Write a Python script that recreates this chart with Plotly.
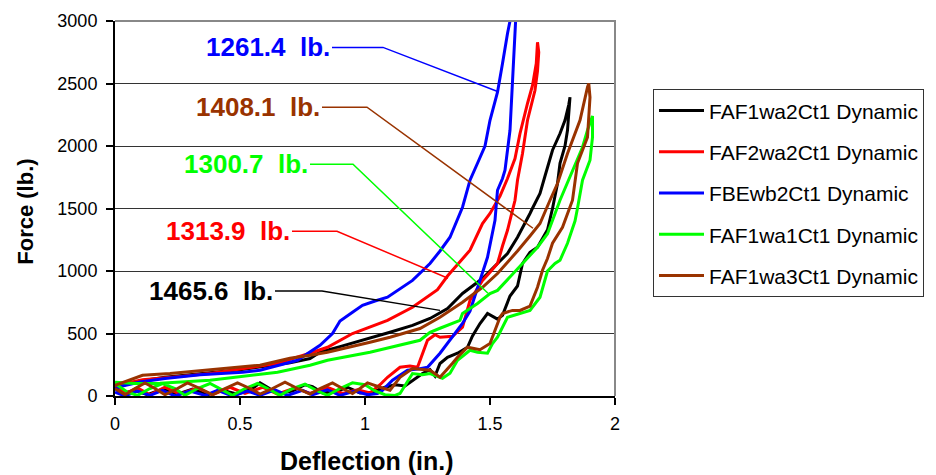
import plotly.graph_objects as go

# ---------------- data ----------------
SERIES_NAMES = ["FAF1wa2Ct1 Dynamic", "FAF2wa2Ct1 Dynamic", "FBEwb2Ct1 Dynamic",
                "FAF1wa1Ct1 Dynamic", "FAF1wa3Ct1 Dynamic"]
SERIES_COLORS = ["#000000", "#FF0000", "#0000FF", "#00FF00", "#993300"]

black_x = [0.00, 0.03, 0.08, 0.13, 0.19, 0.25, 0.31, 0.37, 0.43, 0.49, 0.55, 0.58, 0.61, 0.65, 0.71,
           0.76, 0.79, 0.83, 0.89, 0.93, 0.98, 1.03, 1.08, 1.12, 1.16, 1.19, 1.23, 1.26, 1.28, 1.30,
           1.33, 1.37, 1.41, 1.43, 1.46, 1.49, 1.51, 1.53, 1.55, 1.58, 1.61, 1.63, 1.66, 1.69, 1.71,
           1.73, 1.75, 1.77, 1.78, 1.80, 1.81, 1.815, 1.82,
           1.815, 1.80, 1.78, 1.75, 1.72, 1.70, 1.67, 1.66, 1.61, 1.57, 1.53, 1.47, 1.39, 1.33, 1.26,
           1.19, 1.10, 1.02, 0.90, 0.82, 0.78, 0.70, 0.60, 0.50, 0.40, 0.30, 0.20, 0.10, 0.04, 0.00]
black_y = [60, 20, 45, 10, 55, 15, 55, 10, 45, 15, 60, 105, 70, 20, 40,
           90, 75, 25, 40, 70, 25, 30, 70, 90, 80, 126, 180, 210, 160, 260,
           310, 342, 390, 480, 580, 660, 640, 615, 645, 800, 880, 1060, 1150, 1190, 1260,
           1330, 1500, 1700, 1862, 2000, 2126, 2250, 2390,
           2330, 2206, 2100, 1966, 1760, 1620, 1502, 1460, 1270, 1140, 1060, 940, 820, 700, 620,
           565, 510, 462, 395, 350, 300, 265, 235, 210, 190, 170, 150, 120, 90, 70]

red_x = [0.00, 0.04, 0.09, 0.14, 0.20, 0.26, 0.33, 0.39, 0.46, 0.52, 0.59, 0.65, 0.72, 0.78, 0.85,
         0.91, 0.97, 1.02, 1.06, 1.09, 1.14, 1.18, 1.21, 1.25, 1.28, 1.30, 1.35, 1.39, 1.42, 1.45,
         1.47, 1.50, 1.53, 1.55, 1.57, 1.60, 1.61, 1.63, 1.65, 1.68, 1.69, 1.695, 1.69,
         1.685, 1.67, 1.65, 1.62, 1.60, 1.57, 1.54, 1.50, 1.47, 1.42, 1.33, 1.29, 1.19, 1.09, 0.95,
         0.85, 0.78, 0.65, 0.50, 0.38, 0.25, 0.11, 0.04, 0.00]
red_y = [80, 20, 65, 10, 70, 15, 65, 10, 70, 20, 70, 15, 65, 20, 70,
         20, 50, 25, 90, 150, 230, 240, 230, 446, 490, 470, 478, 550, 766, 860,
         925, 990, 1060, 1200, 1326, 1566, 1726, 1940, 2206, 2446, 2600, 2750, 2830,
         2660, 2485, 2340, 2100, 1900, 1740, 1600, 1460, 1380, 1166, 960, 850, 710, 605, 500,
         390, 342, 262, 215, 180, 155, 130, 100, 80]

blue_x = [0.00, 0.04, 0.09, 0.14, 0.19, 0.24, 0.30, 0.36, 0.41, 0.47, 0.53, 0.58, 0.64, 0.69, 0.75,
          0.79, 0.85, 0.90, 0.96, 1.01, 1.05, 1.07, 1.11, 1.17, 1.21, 1.25, 1.30, 1.35, 1.39, 1.42,
          1.44, 1.46, 1.49, 1.52, 1.53, 1.55, 1.56, 1.58, 1.59, 1.60, 1.605, 1.60,
          1.58, 1.57, 1.55, 1.53, 1.50, 1.48, 1.45, 1.42, 1.39, 1.34, 1.30, 1.26, 1.19, 1.15, 1.09,
          1.04, 0.99, 0.95, 0.90, 0.87, 0.82, 0.79, 0.73, 0.58, 0.51, 0.34, 0.20, 0.10, 0.03, 0.00]
blue_y = [30, 0, 40, 5, 45, 0, 40, 5, 45, 0, 40, 5, 50, 5, 45,
          10, 50, 5, 40, 10, 20, 46, 126, 206, 215, 230, 342, 470, 580, 680,
          800, 925, 1110, 1406, 1646, 1740, 1806, 2126, 2470, 2800, 3100, 3200,
          3005, 2900, 2660, 2430, 2206, 2000, 1862, 1726, 1510, 1270, 1160, 1060, 925, 870, 790,
          760, 725, 670, 600, 500, 406, 366, 286, 206, 190, 170, 140, 112, 80, 60]

green_x = [0.00, 0.05, 0.09, 0.14, 0.19, 0.24, 0.28, 0.33, 0.38, 0.43, 0.47, 0.52, 0.57, 0.62, 0.66,
           0.71, 0.76, 0.81, 0.85, 0.90, 0.95, 1.00, 1.04, 1.08, 1.12, 1.14, 1.19, 1.23, 1.26, 1.31,
           1.34, 1.37, 1.42, 1.45, 1.49, 1.51, 1.53, 1.57, 1.62, 1.66, 1.70, 1.73, 1.76, 1.78, 1.81,
           1.84, 1.85, 1.87, 1.90, 1.91, 1.91,
           1.89, 1.87, 1.83, 1.78, 1.73, 1.69, 1.63, 1.53, 1.50, 1.45, 1.39, 1.38, 1.30, 1.26, 1.22,
           1.02, 0.85, 0.78, 0.65, 0.51, 0.38, 0.18, 0.08, 0.00]
green_y = [100, 30, 5, 60, 100, 60, 5, 60, 100, 50, 5, 60, 100, 50, 5,
           60, 95, 40, 5, 60, 105, 90, 40, 10, 5, 20, 180, 170, 180, 142,
           182, 286, 366, 350, 342, 420, 470, 630, 660, 685, 790, 1000, 1060, 1086, 1222,
           1400, 1502, 1726, 1886, 2070, 2240,
           2126, 1990, 1806, 1566, 1298, 1190, 1060, 845, 820, 740, 660, 605, 542, 510, 446,
           350, 286, 246, 190, 158, 126, 102, 100, 110]

brown_x = [0.00, 0.04, 0.08, 0.12, 0.16, 0.20, 0.25, 0.29, 0.34, 0.39, 0.44, 0.49, 0.54, 0.58, 0.63,
           0.68, 0.73, 0.78, 0.82, 0.87, 0.91, 0.95, 0.98, 1.01, 1.06, 1.10, 1.14, 1.19, 1.26, 1.30,
           1.35, 1.37, 1.41, 1.46, 1.50, 1.51, 1.54, 1.55, 1.59, 1.62, 1.66, 1.69, 1.71, 1.73, 1.75,
           1.79, 1.83, 1.85, 1.89, 1.90, 1.895,
           1.89, 1.86, 1.81, 1.77, 1.74, 1.70, 1.66, 1.61, 1.53, 1.47, 1.39, 1.30, 1.22, 1.10, 1.02,
           0.85, 0.78, 0.70, 0.58, 0.45, 0.31, 0.22, 0.11, 0.05, 0.00]
brown_y = [60, 10, 60, 105, 60, 10, 60, 105, 60, 10, 60, 105, 60, 15, 60,
           110, 60, 15, 60, 105, 60, 20, 60, 105, 70, 46, 150, 220, 206, 150,
           262, 310, 390, 370, 420, 470, 630, 660, 685, 685, 720, 870, 1006, 1100, 1222,
           1350, 1566, 1862, 2070, 2390, 2500,
           2470, 2206, 1940, 1700, 1566, 1380, 1280, 1160, 980, 870, 750, 630, 540, 470, 430,
           350, 326, 302, 246, 222, 198, 180, 166, 120, 86]

SERIES_X = [black_x, red_x, blue_x, green_x, brown_x]
SERIES_Y = [black_y, red_y, blue_y, green_y, brown_y]

# callout labels: text, colour, text-end point, elbow x, target point (data units)
CALLOUT_TEXT = ["1261.4  lb.", "1408.1  lb.", "1300.7  lb.", "1313.9  lb.", "1465.6  lb."]
CALLOUT_COLOR = ["#0000FF", "#993300", "#00FF00", "#FF0000", "#000000"]
CALLOUT_TX = [0.868, 0.828, 0.780, 0.708, 0.640]
CALLOUT_TY = [2789, 2310, 1854, 1318, 840]
CALLOUT_EX = [1.072, 1.008, 0.952, 0.888, 0.828]
CALLOUT_PX = [1.528, 1.672, 1.492, 1.332, 1.300]
CALLOUT_PY = [2438, 1342, 822, 942, 685]

X_TICKS = [0, 0.5, 1, 1.5, 2]
X_TICK_TEXT = ["0", "0.5", "1", "1.5", "2"]
Y_TICKS = [0, 500, 1000, 1500, 2000, 2500, 3000]

FONT = "Liberation Sans, Arial, sans-serif"

fig = go.Figure()
for i, name in enumerate(SERIES_NAMES):
    fig.add_trace(go.Scatter(
        x=SERIES_X[i], y=SERIES_Y[i], mode="lines", name=name,
        legendgroup=name,
        line=dict(color=SERIES_COLORS[i], width=3),
    ))

shapes = []
annotations = []
for i, txt in enumerate(CALLOUT_TEXT):
    shapes.append(dict(
        type="path", xref="x", yref="y",
        path=f"M {CALLOUT_TX[i]},{CALLOUT_TY[i]} L {CALLOUT_EX[i]},{CALLOUT_TY[i]} "
             f"L {CALLOUT_PX[i]},{CALLOUT_PY[i]}",
        line=dict(color=CALLOUT_COLOR[i], width=1.5), layer="above"))
    annotations.append(dict(
        x=CALLOUT_TX[i], y=CALLOUT_TY[i], xref="x", yref="y",
        text=f"<b>{txt}</b>", showarrow=False, xanchor="right", yanchor="middle",
        font=dict(family=FONT, size=26, color=CALLOUT_COLOR[i])))

# top & right plot-area border (gray)
shapes.append(dict(type="path", xref="paper", yref="paper", path="M 0,1 L 1,1 L 1,0",
                   line=dict(color="#888888", width=2), layer="above"))

annotations.append(dict(x=-0.208, y=0.49, xref="paper", yref="paper", text="<b>Force (lb.)</b>",
                        textangle=-90, showarrow=False,
                        font=dict(family=FONT, size=22, color="black")))
annotations.append(dict(x=0.504, y=-0.215, xref="paper", yref="paper", text="<b>Deflection (in.)</b>",
                        showarrow=False, font=dict(family=FONT, size=25, color="black")))

fig.update_layout(
    width=936, height=475,
    margin=dict(l=115, r=321, t=21, b=79, autoexpand=False),
    paper_bgcolor="white", plot_bgcolor="white",
    font=dict(family=FONT, size=18, color="black"),
    xaxis=dict(range=[0, 2], tickvals=X_TICKS, ticktext=X_TICK_TEXT, showgrid=False,
               zeroline=False, showline=True, linecolor="black", linewidth=2,
               ticks="outside", ticklen=7, tickcolor="black", tickwidth=1.5,
               ticklabelstandoff=3,
               tickfont=dict(family=FONT, size=18, color="black")),
    yaxis=dict(range=[0, 3000], tickvals=Y_TICKS, showgrid=True, gridcolor="#333333", gridwidth=1,
               zeroline=False, showline=True, linecolor="black", linewidth=2,
               ticks="outside", ticklen=7, tickcolor="black", tickwidth=1.5,
               ticklabelstandoff=5,
               tickfont=dict(family=FONT, size=18, color="black")),
    legend=dict(x=1.076, y=0.818, xanchor="left", yanchor="top",
                bordercolor="#333333", borderwidth=1, bgcolor="white",
                font=dict(family=FONT, size=21, color="black"),
                tracegroupgap=11, itemwidth=45),
    shapes=shapes, annotations=annotations,
)

fig.write_html("out.html")
